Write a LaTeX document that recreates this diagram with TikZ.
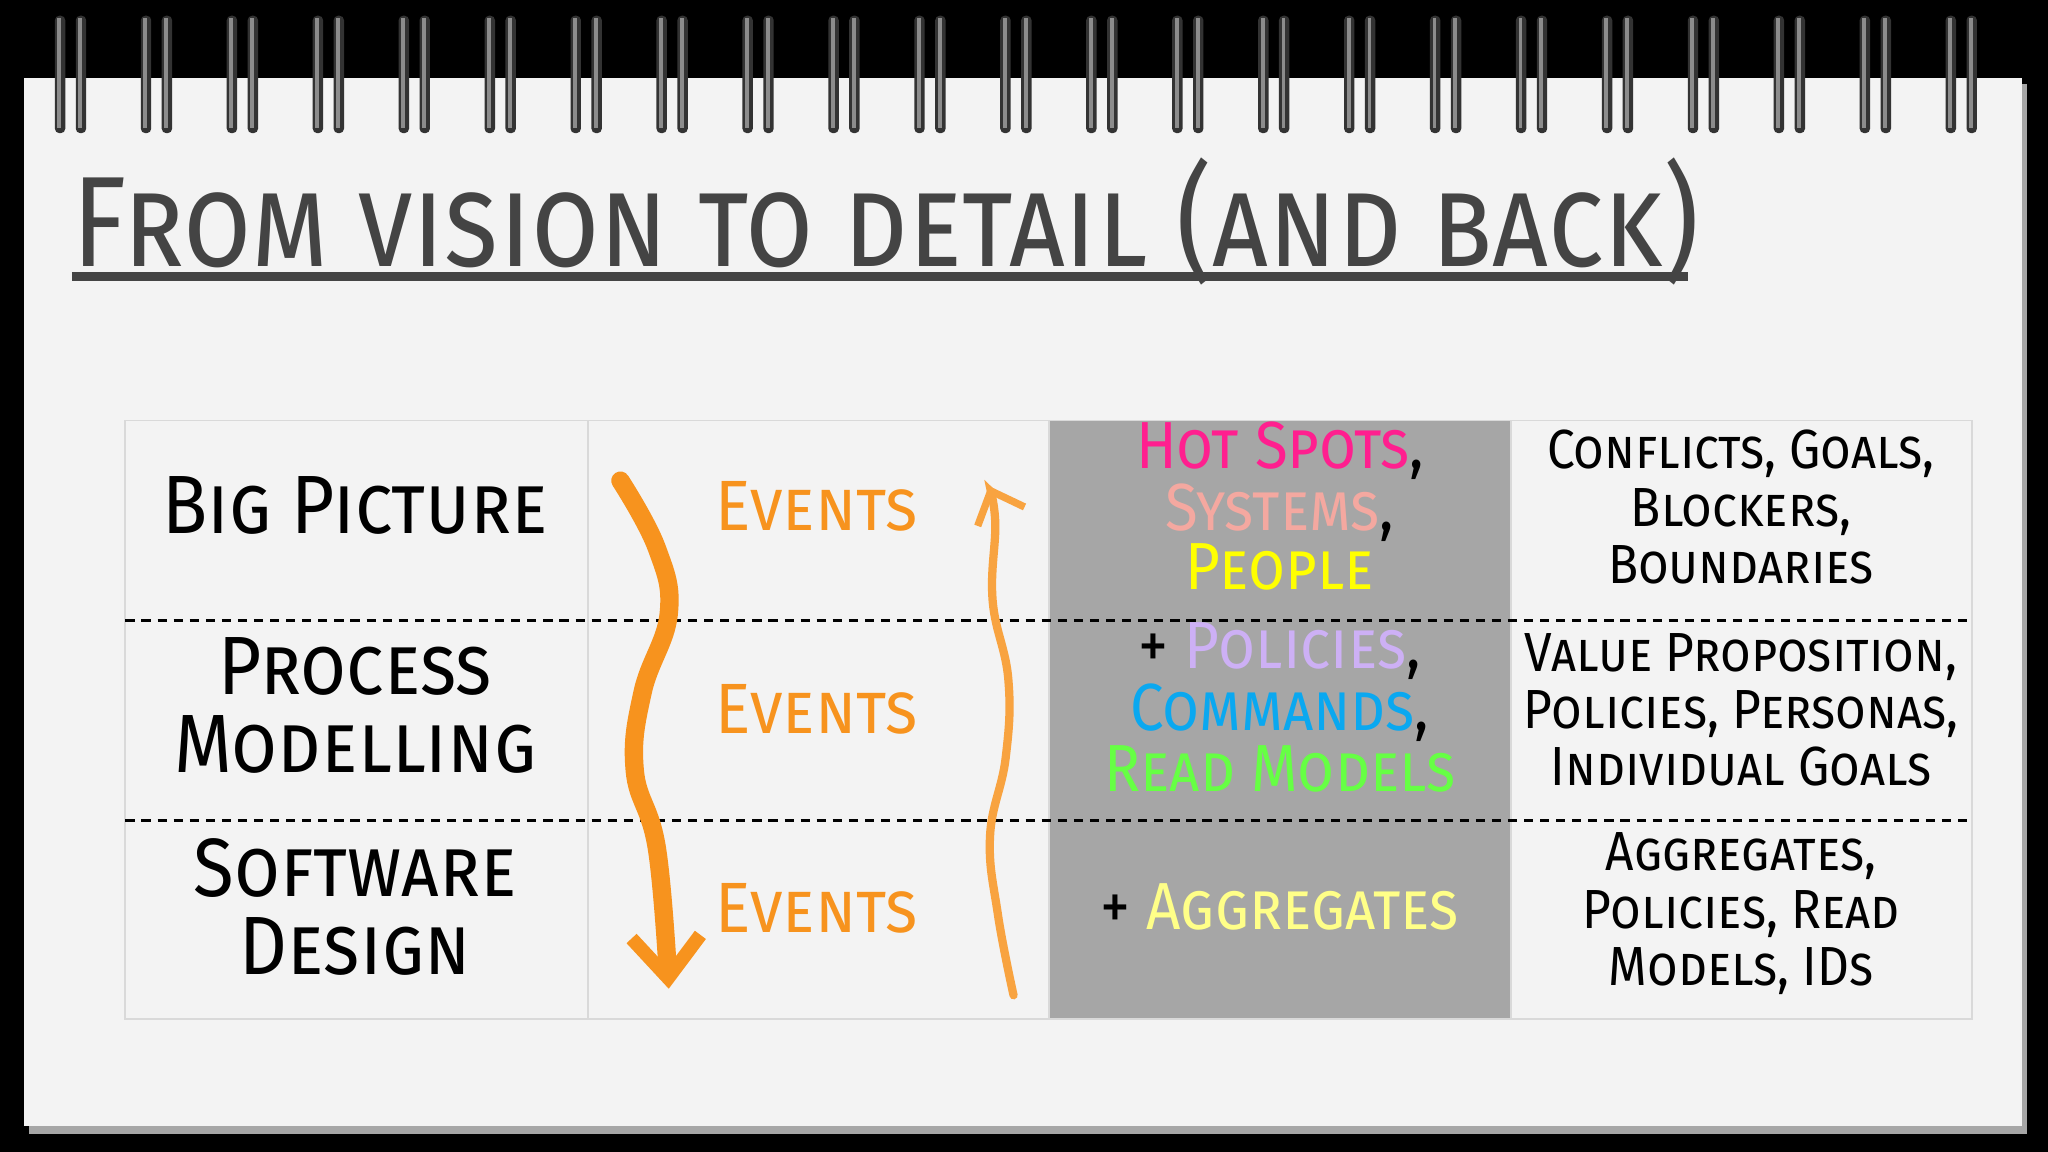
\documentclass[tikz,border=0pt]{standalone}
\usepackage{fontspec}
\setmainfont{Fira Sans}
\usetikzlibrary{arrows.meta}
\definecolor{page}{HTML}{F3F3F3}
\definecolor{ttl}{HTML}{444444}
\definecolor{orng}{HTML}{F7931E}
\definecolor{grayc}{HTML}{A6A6A6}
\definecolor{hot}{HTML}{FF1F8F}
\definecolor{sys}{HTML}{F4A8A0}
\definecolor{ppl}{HTML}{FFFF00}
\definecolor{pol}{HTML}{CDB0F5}
\definecolor{cmd}{HTML}{0AA8F0}
\definecolor{rdm}{HTML}{66FF44}
\definecolor{agg}{HTML}{FFFF88}
\newcommand\hx[2]{\scalebox{#1}[1]{\begin{tabular}{@{}c@{}}#2\end{tabular}}}
\tikzset{
 every node/.style={font=\scshape, align=center, inner sep=0pt},
 rowlbl/.style={font=\fontsize{18}{19}\selectfont\scshape},
 ev/.style={font=\fontsize{15.5}{16}\selectfont\scshape, text=orng},
 mid/.style={font=\fontsize{14.5}{13}\selectfont\scshape},
 rgt/.style={font=\fontsize{12}{12.5}\selectfont\scshape},
 cell/.style={draw=black!15, line width=0.4pt},
 sep/.style={dashed, line width=0.6pt, dash pattern=on 2pt off 1.5pt},
 ring/.style={fill=black!80, rounded corners=1pt}
}
\begin{document}
\begin{tikzpicture}[x=0.01cm,y=-0.01cm]
\useasboundingbox (0,0) rectangle (1568,882);
\fill[black] (0,0) rectangle (1568,882);
\fill[black!35] (22,64) rectangle (1552,868);
\fill[page] (18,60) rectangle (1548,862);
% rings
\foreach \i in {0,...,22} {
  \pgfmathsetmacro\xx{55+\i*65.8}
  \fill[ring] (\xx-13,12) rectangle (\xx-5,102);
  \fill[ring] (\xx+3,12) rectangle (\xx+11,102);
  \fill[black!45] (\xx-11,14) rectangle (\xx-8,98);
  \fill[black!45] (\xx+5,14) rectangle (\xx+8,98);
}
% title
\node[anchor=west, text=ttl, font=\fontsize{28}{30}\selectfont\scshape] (title) at (55,178) {\hx{0.86}{From vision to detail (and back)}};
\draw[ttl, line width=2pt] (55,212) -- (1292,212);
% table
\fill[grayc] (803,322) rectangle (1157,780);
\draw[cell] (96,322) rectangle (1510,780);
\foreach \x in {450,803,1157} \draw[cell] (\x,322) -- (\x,780);
\draw[sep] (96,475) -- (1510,475);
\draw[sep] (96,628) -- (1510,628);
% col 1
\node[rowlbl] (bp) at (272,395) {\hx{0.9}{Big Picture}};
\node[rowlbl] (pm) at (272,548) {\hx{0.9}{Process\\[-2pt]Modelling}};
\node[rowlbl] (sd) at (272,703) {\hx{0.9}{Software\\[-2pt]Design}};
% col 2
\node[ev] (e1) at (625,395) {\hx{0.93}{Events}};
\node[ev] (e2) at (625,550) {\hx{0.93}{Events}};
\node[ev] (e3) at (625,703) {\hx{0.93}{Events}};
% arrows
\draw[orng, line width=4pt, line cap=round, -{Straight Barb[length=9pt,width=15pt,line width=3pt]}]
 plot[smooth, tension=0.7] coordinates {(475,368) (503,420) (512,470) (492,530) (486,590) (503,650) (512,757)};
\draw[orng!85, line width=1.8pt, line cap=round, -{Straight Barb[length=6pt,width=11pt,line width=1.6pt]}]
 plot[smooth, tension=0.7] coordinates {(776,762) (764,700) (758,640) (770,580) (772,520) (760,460) (762,400) (757,372)};
% col 3
\node[mid, text=hot] (h1) at (980,348) {\hx{0.9}{Hot Spots\textcolor{black}{,}}};
\node[mid, text=sys] (h2) at (980,395) {\hx{0.9}{Systems\textcolor{black}{,}}};
\node[mid, text=ppl] (h3) at (980,441) {\hx{0.9}{People}};
\node[mid, text=pol] (p1) at (980,501) {\hx{0.9}{\textcolor{black}{+ }Policies\textcolor{black}{,}}};
\node[mid, text=cmd] (p2) at (980,548) {\hx{0.9}{Commands\textcolor{black}{,}}};
\node[mid, text=rdm] (p3) at (980,595) {\hx{0.9}{Read Models}};
\node[mid, text=agg] (a1) at (980,701) {\hx{0.9}{\textcolor{black}{+ }Aggregates}};
% col 4
\node[rgt] (c1) at (1333,394) {\hx{0.9}{Conflicts, Goals,\\Blockers,\\Boundaries}};
\node[rgt] (c2) at (1333,549) {\hx{0.9}{Value Proposition,\\Policies, Personas,\\Individual Goals}};
\node[rgt] (c3) at (1333,702) {\hx{0.9}{Aggregates,\\Policies, Read\\Models, IDs}};
\end{tikzpicture}
\end{document}
